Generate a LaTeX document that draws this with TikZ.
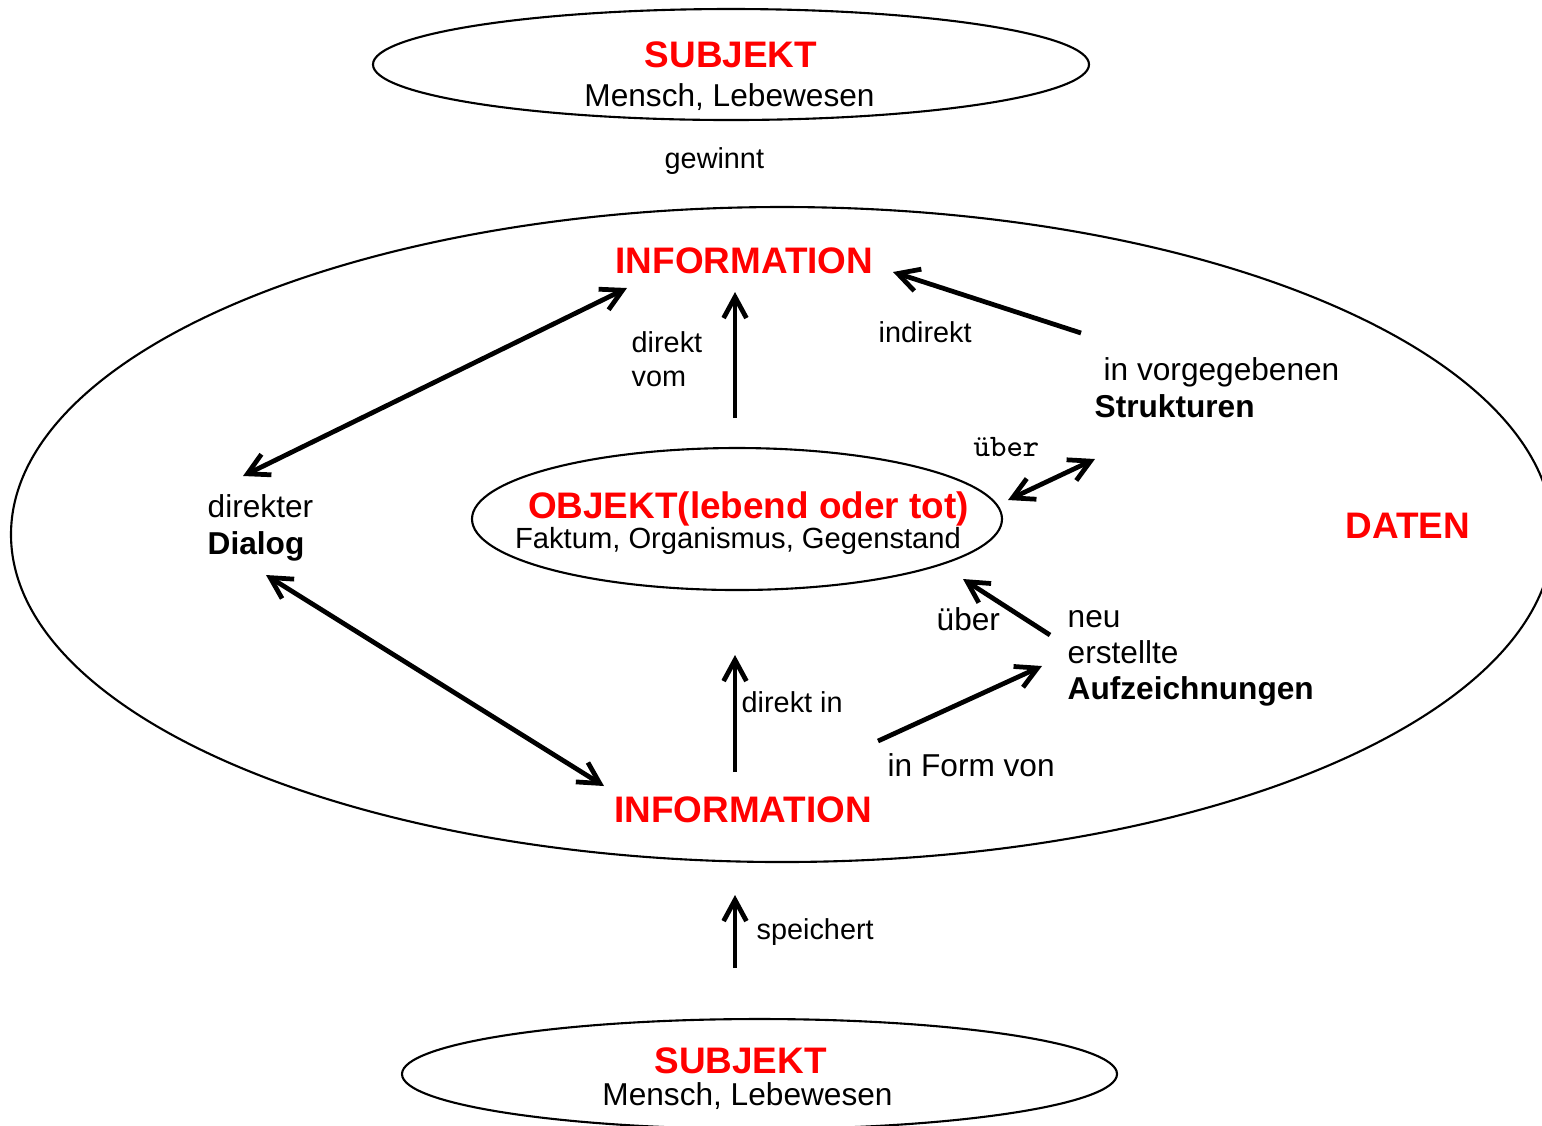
\documentclass[tikz,border=0pt]{standalone}
\usepackage{fontspec}
\setsansfont{Liberation Sans}
\renewcommand{\familydefault}{\sfdefault}
\usetikzlibrary{shapes.geometric,arrows.meta,positioning}

\tikzstyle{ell} = [ellipse, draw, line width=0.6pt, inner sep=0pt]
\tikzstyle{title} = [text=red, font=\bfseries\fontsize{10.5}{12}\selectfont, inner sep=0pt, anchor=base]
\tikzstyle{sub} = [font=\fontsize{9}{11}\selectfont, inner sep=0pt, anchor=base]
\tikzstyle{lbl} = [font=\fontsize{8.2}{10}\selectfont, inner sep=0pt, anchor=base west]
\tikzstyle{txt} = [font=\fontsize{9}{11}\selectfont, inner sep=0pt, anchor=base west]
\tikzstyle{arrow} = [draw, line width=1.35pt, -{Straight Barb[length=6pt,width=6.5pt]}]
\tikzstyle{darrow} = [arrow, {Straight Barb[length=6pt,width=6.5pt]}-{Straight Barb[length=6pt,width=6.5pt]}]

\begin{document}
\begin{tikzpicture}
    \useasboundingbox (0,0) rectangle (15.42,-11.25);

    % ellipses
    \node[ell, minimum width=7.16cm, minimum height=1.11cm] (subjTopEll) at (7.31,-0.645) {};
    \node[ell, minimum width=15.42cm, minimum height=6.55cm] (datenEll) at (7.82,-5.345) {};
    \node[ell, minimum width=5.30cm, minimum height=1.42cm] (objEll) at (7.37,-5.19) {};
    \node[ell, minimum width=7.15cm, minimum height=1.10cm] (subjBotEll) at (7.595,-10.74) {};

    % titles
    \node[title] (subjTop) at (7.31,-0.67) {SUBJEKT};
    \node[sub] (menschTop) at (7.295,-1.06) {Mensch, Lebewesen};
    \node[title] (infoTop) at (7.445,-2.73) {INFORMATION};
    \node[title] (objekt) at (7.485,-5.18) {OBJEKT(lebend oder tot)};
    \node[sub, font=\fontsize{8.3}{10}\selectfont] (faktum) at (7.38,-5.48) {Faktum, Organismus, Gegenstand};
    \node[title] (daten) at (14.08,-5.38) {DATEN};
    \node[title] (infoBot) at (7.43,-8.22) {INFORMATION};
    \node[title] (subjBot) at (7.405,-10.73) {SUBJEKT};
    \node[sub] (menschBot) at (7.475,-11.05) {Mensch, Lebewesen};

    % labels
    \node[lbl] (gewinnt) at (6.64,-1.68) {gewinnt};
    \node[lbl] (direkt) at (6.31,-3.52) {direkt};
    \node[lbl, below=0.34cm of direkt.base west, anchor=base west] (vom) {vom};
    \node[lbl] (indirekt) at (8.78,-3.42) {indirekt};
    \node[txt] (vorgegeben) at (11.03,-3.80) {in vorgegebenen};
    \node[txt, font=\bfseries\fontsize{9}{11}\selectfont] (strukturen) at (10.94,-4.17) {Strukturen};
    \node[txt, font=\ttfamily\fontsize{8.9}{10}\selectfont] (ueberTop) at (9.73,-4.56) {über};
    \node[txt] (direkter) at (2.07,-5.17) {direkter};
    \node[txt, font=\bfseries\fontsize{9}{11}\selectfont, below=0.37cm of direkter.base west, anchor=base west] (dialog) {Dialog};
    \node[txt] (ueberBot) at (9.36,-6.30) {über};
    \node[txt] (neu) at (10.67,-6.27) {neu};
    \node[txt, below=0.36cm of neu.base west, anchor=base west] (erstellte) {erstellte};
    \node[txt, font=\bfseries\fontsize{9}{11}\selectfont, below=0.36cm of erstellte.base west, anchor=base west] (aufz) {Aufzeichnungen};
    \node[lbl] (direktIn) at (7.41,-7.12) {direkt in};
    \node[txt] (inForm) at (8.87,-7.76) {in Form von};
    \node[lbl] (speichert) at (7.56,-9.39) {speichert};

    % arrow ends
    \coordinate (dialogUp) at (2.43,-4.76);
    \coordinate (infoTopL) at (6.27,-2.88);
    \coordinate (objTop) at (7.35,-4.18);
    \coordinate (infoTopC) at (7.35,-2.92);
    \coordinate (strukL) at (10.81,-3.33);
    \coordinate (infoTopR) at (8.93,-2.72);
    \coordinate (objR) at (10.08,-5.00);
    \coordinate (strukB) at (10.95,-4.59);
    \coordinate (dialogDown) at (2.66,-5.75);
    \coordinate (infoBotL) at (6.04,-7.86);
    \coordinate (infoBotC) at (7.35,-7.72);
    \coordinate (objBot) at (7.35,-6.55);
    \coordinate (aufzL) at (10.50,-6.35);
    \coordinate (objBR) at (9.63,-5.79);
    \coordinate (formStart) at (8.78,-7.41);
    \coordinate (aufzIn) at (10.42,-6.66);
    \coordinate (subjBotTop) at (7.35,-9.68);
    \coordinate (datenBot) at (7.35,-8.95);

    % lines
    \draw [darrow] (dialogUp) -- (infoTopL);
    \draw [arrow] (objTop) -- (infoTopC);
    \draw [arrow] (strukL) -- (infoTopR);
    \draw [darrow] (objR) -- (strukB);
    \draw [darrow] (dialogDown) -- (infoBotL);
    \draw [arrow] (infoBotC) -- (objBot);
    \draw [arrow] (aufzL) -- (objBR);
    \draw [arrow] (formStart) -- (aufzIn);
    \draw [arrow] (subjBotTop) -- (datenBot);
\end{tikzpicture}
\end{document}
